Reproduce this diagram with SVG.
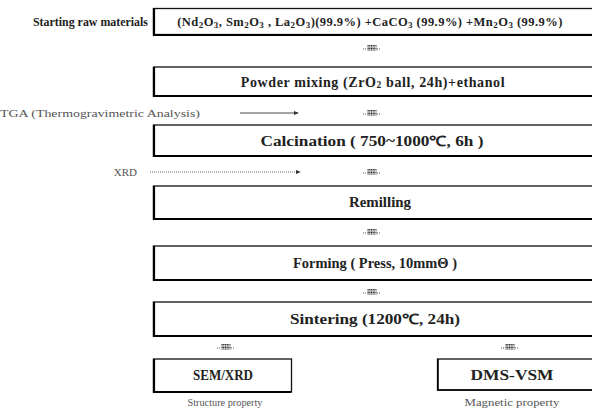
<svg xmlns="http://www.w3.org/2000/svg" width="592" height="415" viewBox="0 0 592 415">
<defs>
<marker id="ah" viewBox="0 0 6 6" refX="5" refY="3" markerWidth="5" markerHeight="5" orient="auto" markerUnits="userSpaceOnUse">
<path d="M0,0.5 L6,3 L0,5.5 z" fill="#333"/>
</marker>
<g id="dn">
<path d="M-9,1 h4 M5,1 h4" stroke="#555" stroke-width="1" stroke-dasharray="1 1"/>
<path d="M-4.5,-2.5 h9 M-4.5,-1 h9 M-4.5,0.5 h9 M-4.5,2 h9" stroke="#222" stroke-width="1" stroke-dasharray="1.2 0.5"/>
</g>
</defs>
<style>
.box{fill:#fff;stroke:#111;stroke-width:1.3}
.edge{stroke:#000;stroke-width:2.2;fill:none}
.t{font-family:"Liberation Serif",serif;font-weight:bold;font-size:14px;fill:#222;text-anchor:middle;dominant-baseline:central}
.lab{font-family:"Liberation Serif",serif;font-size:11px;fill:#555;dominant-baseline:central}
</style>
<rect width="592" height="415" fill="#fff"/>
<g id="label-start">
<text x="148" y="22" class="t" style="text-anchor:end;font-size:12px" textLength="115" lengthAdjust="spacingAndGlyphs">Starting raw materials</text>
</g>
<g id="n1">
<rect class="box" x="153.5" y="8.5" width="445" height="26"/>
<path class="edge" d="M154,8 V35 H592"/>
<text x="370" y="22" class="t" style="font-size:12.5px;letter-spacing:0.45px">(Nd<tspan font-size="9" dy="3">2</tspan><tspan dy="-3">O</tspan><tspan font-size="9" dy="3">3</tspan><tspan dy="-3">, Sm</tspan><tspan font-size="9" dy="3">2</tspan><tspan dy="-3">O</tspan><tspan font-size="9" dy="3">3</tspan><tspan dy="-3"> , La</tspan><tspan font-size="9" dy="3">2</tspan><tspan dy="-3">O</tspan><tspan font-size="9" dy="3">3</tspan><tspan dy="-3">)(99.9%)  +CaCO</tspan><tspan font-size="9" dy="3">3</tspan><tspan dy="-3"> (99.9%)  +Mn</tspan><tspan font-size="9" dy="3">2</tspan><tspan dy="-3">O</tspan><tspan font-size="9" dy="3">3</tspan><tspan dy="-3"> (99.9%)</tspan></text>
</g>
<g id="n2">
<rect class="box" x="153.5" y="67" width="445" height="29"/>
<path class="edge" d="M154,67 V96 H592"/>
<text x="373" y="82" class="t" style="letter-spacing:0.6px">Powder mixing (ZrO<tspan font-size="9.5" dy="3">2</tspan><tspan dy="-3"> ball, 24h)+ethanol</tspan></text>
</g>
<g id="n3">
<rect class="box" x="153.5" y="125" width="445" height="31"/>
<path class="edge" d="M154,125 V156 H592"/>
<text x="372" y="141" class="t" textLength="223" lengthAdjust="spacingAndGlyphs">Calcination ( 750~1000℃, 6h )</text>
</g>
<g id="n4">
<rect class="box" x="153.5" y="186" width="445" height="33"/>
<path class="edge" d="M154,186 V219 H592"/>
<text x="380" y="202" class="t" textLength="62" lengthAdjust="spacingAndGlyphs">Remilling</text>
</g>
<g id="n5">
<rect class="box" x="153.5" y="246" width="445" height="34"/>
<path class="edge" d="M154,246 V280 H592"/>
<text x="375" y="263" class="t" textLength="164" lengthAdjust="spacingAndGlyphs">Forming ( Press, 10mmΘ )</text>
</g>
<g id="n6">
<rect class="box" x="153.5" y="302" width="445" height="34"/>
<path class="edge" d="M154,302 V336 H592"/>
<text x="375" y="319" class="t" textLength="170" lengthAdjust="spacingAndGlyphs">Sintering (1200℃, 24h)</text>
</g>
<g id="n7">
<rect class="box" x="153.5" y="359" width="138" height="33"/>
<path class="edge" d="M154,359 V392 H291"/>
<text x="223" y="375" class="t" textLength="60" lengthAdjust="spacingAndGlyphs">SEM/XRD</text>
<text x="225" y="402" class="lab" style="text-anchor:middle" textLength="75" lengthAdjust="spacingAndGlyphs">Structure property</text>
</g>
<g id="n8">
<rect class="box" x="437.5" y="359" width="160" height="31"/>
<path class="edge" d="M438,359 V390 H592" style="stroke-width:1.5"/>
<text x="512" y="375" class="t" textLength="83" lengthAdjust="spacingAndGlyphs">DMS-VSM</text>
<text x="512" y="402" class="lab" style="text-anchor:middle" textLength="95" lengthAdjust="spacingAndGlyphs">Magnetic property</text>
</g>
<g id="side-labels">
<text x="0" y="113" class="lab" textLength="200" lengthAdjust="spacingAndGlyphs">TGA (Thermogravimetric Analysis)</text>
<text x="137" y="172" class="lab" style="text-anchor:end">XRD</text>
</g>
<g id="connectors">
<line x1="240" y1="113" x2="298" y2="113" stroke="#333" stroke-width="0.9" marker-end="url(#ah)"/>
<line x1="150" y1="172" x2="300" y2="172" stroke="#555" stroke-width="0.9" stroke-dasharray="1 1" marker-end="url(#ah)"/>
<use href="#dn" x="372" y="48"/>
<use href="#dn" x="372" y="113"/>
<use href="#dn" x="372" y="172"/>
<use href="#dn" x="372" y="232"/>
<use href="#dn" x="372" y="292"/>
<use href="#dn" x="226" y="347"/>
<use href="#dn" x="510" y="347"/>
</g>
</svg>
